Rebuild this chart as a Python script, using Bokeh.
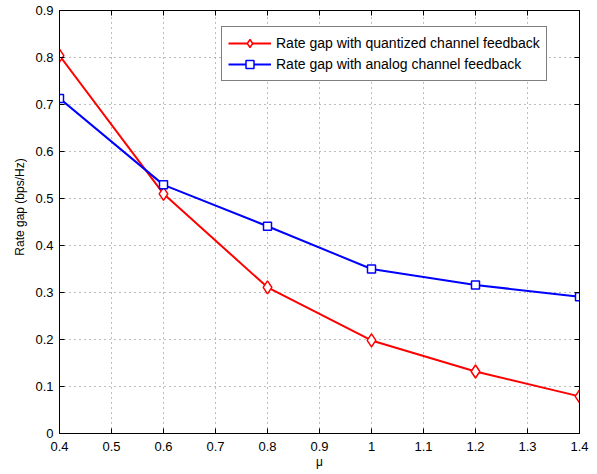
from bokeh.plotting import figure
from bokeh.models import LinearAxis, Range1d, FixedTicker, Legend, LegendItem
from bokeh.embed import file_html
from bokeh.resources import INLINE

mu = [0.4, 0.6, 0.8, 1.0, 1.2, 1.4]
quantized = [0.804, 0.51, 0.311, 0.198, 0.132, 0.079]
analog = [0.713, 0.529, 0.441, 0.350, 0.316, 0.291]
x_ticks = [0.4, 0.5, 0.6, 0.7, 0.8, 0.9, 1.0, 1.1, 1.2, 1.3, 1.4]
y_ticks = [0, 0.1, 0.2, 0.3, 0.4, 0.5, 0.6, 0.7, 0.8, 0.9]
x_labels = {0.4: "0.4", 0.5: "0.5", 0.6: "0.6", 0.7: "0.7", 0.8: "0.8", 0.9: "0.9",
            1.0: "1", 1.1: "1.1", 1.2: "1.2", 1.3: "1.3", 1.4: "1.4"}
y_labels = {0: "0", 0.1: "0.1", 0.2: "0.2", 0.3: "0.3", 0.4: "0.4", 0.5: "0.5",
            0.6: "0.6", 0.7: "0.7", 0.8: "0.8", 0.9: "0.9"}
x_title = "μ"
y_title = "Rate gap (bps/Hz)"

FONT = "Liberation Sans"

p = figure(width=597, height=474, output_backend="svg", toolbar_location=None,
           x_range=Range1d(0.4, 1.4), y_range=Range1d(0, 0.9),
           min_border_left=59, min_border_right=18, min_border_top=10, min_border_bottom=41)
p.outline_line_color = "black"
p.outline_line_width = 1
p.background_fill_color = "white"
p.border_fill_color = "white"

for ax, ticks, labels in ((p.xaxis[0], x_ticks, x_labels), (p.yaxis[0], y_ticks, y_labels)):
    ax.ticker = FixedTicker(ticks=ticks)
    ax.major_label_overrides = labels
    ax.major_tick_in = 5
    ax.major_tick_out = 0
    ax.minor_tick_line_color = None
    ax.axis_line_color = "black"
    ax.major_tick_line_color = "black"
    ax.major_label_text_font = FONT
    ax.major_label_text_font_size = "13px"
    ax.major_label_text_color = "black"
    ax.axis_label_text_font = FONT
    ax.axis_label_text_font_size = "12px"
    ax.axis_label_text_font_style = "normal"
    ax.axis_label_text_color = "black"

p.xaxis[0].axis_label = x_title
p.xaxis[0].major_label_standoff = 8
p.xaxis[0].axis_label_standoff = 1
# leading no-break spaces shift the rotated label up, as in the reference
p.yaxis[0].axis_label = "\u00a0" * 9 + y_title
p.yaxis[0].major_label_standoff = 6
p.yaxis[0].axis_label_standoff = 5

for loc, ticks in (("right", y_ticks), ("above", x_ticks)):
    ax = LinearAxis(ticker=FixedTicker(ticks=ticks))
    ax.major_label_overrides = {t: "" for t in ticks}
    ax.major_label_standoff = 0
    ax.major_tick_in = 5
    ax.major_tick_out = 0
    ax.minor_tick_line_color = None
    ax.axis_line_color = "black"
    ax.major_tick_line_color = "black"
    p.add_layout(ax, loc)

p.xgrid.ticker = FixedTicker(ticks=x_ticks)
p.ygrid.ticker = FixedTicker(ticks=y_ticks)
for g in (p.xgrid[0], p.ygrid[0]):
    g.grid_line_color = "#7a7a7a"
    g.grid_line_dash = "1 4"
    g.grid_line_width = 1

r1 = p.line(mu, quantized, line_color="#ff0000", line_width=2)
m1 = p.scatter(mu, quantized, marker="diamond", size=13,
               line_color="#ff0000", fill_color="white", line_width=1.5)
r2 = p.line(mu, analog, line_color="#0000ff", line_width=2)
m2 = p.scatter(mu, analog, marker="square", size=8, line_color="#0000ff",
               fill_color="white", line_width=1.5)

legend = Legend(items=[
    LegendItem(label="Rate gap with quantized channel feedback", renderers=[r1, m1]),
    LegendItem(label="Rate gap with analog channel feedback", renderers=[r2, m2]),
], location=(162, 352))
legend.label_text_font = FONT
legend.label_text_font_size = "14px"
legend.label_text_color = "black"
legend.border_line_color = "black"
legend.border_line_width = 1
legend.background_fill_alpha = 1
legend.glyph_width = 43
legend.glyph_height = 20
legend.label_height = 20
legend.label_standoff = 5
legend.padding = 6
legend.spacing = 1
legend.margin = 0
p.add_layout(legend, "center")

open("out.html", "w").write(file_html(p, INLINE))
